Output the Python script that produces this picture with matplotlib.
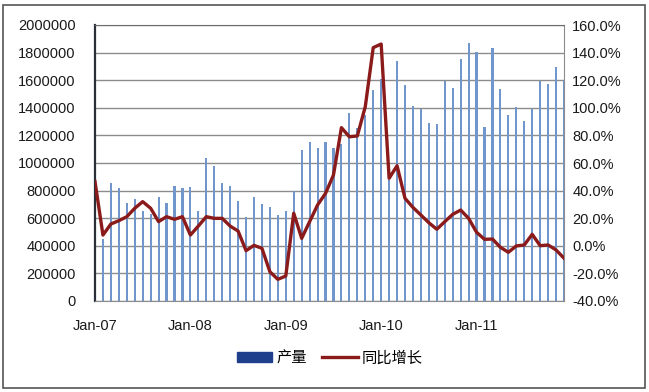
import matplotlib
matplotlib.use("Agg")
import matplotlib.pyplot as plt
from matplotlib.patches import Rectangle
from matplotlib.lines import Line2D
from matplotlib.ticker import FuncFormatter

plt.rcParams['font.family'] = ['Liberation Sans', 'Noto Sans CJK SC', 'DejaVu Sans']

months = list(range(60))  # Jan-07 .. Dec-11
output = [600000, 450000, 853000, 817000, 708000, 737000, 654000, 630000, 756000, 708000,
          833000, 821000, 826000, 654000, 1038000, 980000, 853000, 833000, 727000, 611000,
          756000, 703000, 683000, 623000, 654000, 799000, 1094000, 1154000, 1106000, 1150000,
          1106000, 1138000, 1360000, 1256000, 1350000, 1529000, 1607000, 880000, 1739000, 1565000,
          1413000, 1389000, 1288000, 1280000, 1596000, 1541000, 1754000, 1867000, 1802000, 1259000,
          1831000, 1533000, 1348000, 1404000, 1304000, 1391000, 1596000, 1570000, 1693000, 1600000]
growth = [46.5, 7.8, 15.8, 18.2, 21.1, 27.2, 32.0, 27.2, 17.5, 21.1,
          19.2, 21.1, 7.8, 14.3, 21.1, 19.9, 19.9, 14.3, 10.7, -3.5,
          0.3, -1.8, -18.8, -24.3, -21.9, 23.6, 5.4, 17.5, 29.6, 38.0,
          51.3, 85.6, 79.0, 79.6, 100.8, 143.6, 146.2, 48.9, 58.0, 34.4,
          27.8, 22.3, 16.7, 12.0, 17.5, 22.8, 25.9, 19.9, 9.8, 4.7,
          4.9, -1.1, -4.7, -0.1, 0.6, 8.3, 0.1, 0.6, -3.0, -9.0]
xtick_pos = [0, 12, 24, 36, 48]
xtick_labels = ['Jan-07', 'Jan-08', 'Jan-09', 'Jan-10', 'Jan-11']
left_ticks = list(range(0, 2000001, 200000))
right_ticks = list(range(-40, 161, 20))

W, H = 649, 392
fig = plt.figure(figsize=(W / 100, H / 100), dpi=100)
ax = fig.add_axes([95 / W, 1 - 301 / H, (564 - 95) / W, (301 - 25) / H])

ax.bar(months, output, width=0.27, color='#7096cc', zorder=2)
ax.set_xlim(0, 59)
ax.set_ylim(0, 2000000)
ax.set_yticks(left_ticks)
ax.yaxis.set_major_formatter(FuncFormatter(lambda v, p: f'{int(v)}'))
ax.grid(axis='y', color='#8c8c8c', lw=1.0, zorder=0)
ax.set_axisbelow(True)
ax.set_xticks(xtick_pos)
ax.set_xticklabels(xtick_labels)
ax.tick_params(axis='x', length=0, pad=13, labelsize=10.5)
ax.tick_params(axis='y', length=0, pad=14, labelsize=10.5)
for lab in ax.get_xticklabels() + ax.get_yticklabels():
    lab.set_color('#1a1a1a')

ax.spines['left'].set_color('#2b2f3a')
ax.spines['left'].set_linewidth(1.6)
ax.spines['right'].set_color('#8c8c8c')
ax.spines['top'].set_color('#6e6e6e')
ax.spines['bottom'].set_color('#8c8c8c')

ax2 = ax.twinx()
ax2.plot(months, growth, color='#8b1a1a', lw=2.4, solid_joinstyle='round', zorder=3)
ax2.set_ylim(-40, 160)
ax2.set_yticks(right_ticks)
ax2.yaxis.set_major_formatter(FuncFormatter(lambda v, p: f'{v:.1f}%'))
ax2.tick_params(axis='y', length=0, pad=6, labelsize=10.5)
for lab in ax2.get_yticklabels():
    lab.set_color('#1a1a1a')
for s in ax2.spines.values():
    s.set_visible(False)

handles = [Rectangle((0, 0), 1, 1, color='#1f3f8c'),
           Line2D([0], [0], color='#8b1a1a', lw=2.4)]
fig.legend(handles, ['产量', '同比增长'], loc='center', bbox_to_anchor=(330 / W, 1 - 358 / H),
           ncol=2, frameon=False, prop={'family': ['Noto Sans CJK SC', 'DejaVu Sans'], 'size': 11},
           handlelength=2.3, handleheight=0.55, columnspacing=1.0, handletextpad=0.3)

fig.patches.append(Rectangle((3 / W, 1 - 388 / H), (645 - 3) / W, (388 - 5) / H,
                             transform=fig.transFigure, fill=False, edgecolor='#555555', lw=1.2))

fig.savefig('out.png', dpi=100)
